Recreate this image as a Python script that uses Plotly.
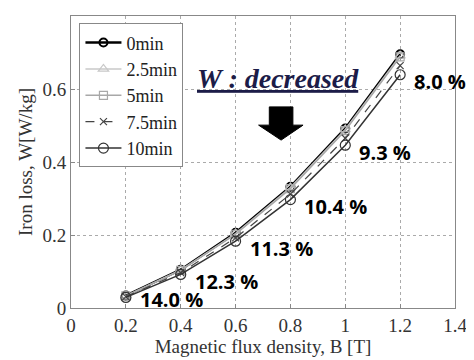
import plotly.graph_objects as go

B = [0.2, 0.4, 0.6, 0.8, 1.0, 1.2]
w_0min = [0.034, 0.105, 0.206, 0.332, 0.492, 0.695]
w_2_5min = [0.033, 0.104, 0.204, 0.330, 0.489, 0.691]
w_5min = [0.033, 0.103, 0.202, 0.327, 0.486, 0.688]
w_7_5min = [0.031, 0.097, 0.192, 0.312, 0.465, 0.664]
w_10min = [0.029, 0.092, 0.183, 0.297, 0.446, 0.639]
reductions = ["14.0 %", "12.3 %", "11.3 %", "10.4 %", "9.3 %", "8.0 %"]

series = [
    ("0min", w_0min, dict(color="black", width=2.5, dash="solid"), dict(symbol="circle-open", size=8, color="black", line=dict(width=2))),
    ("2.5min", w_2_5min, dict(color="#c8c8c8", width=1.5, dash="solid"), dict(symbol="triangle-up-open", size=9, color="#c8c8c8", line=dict(width=1.2))),
    ("5min", w_5min, dict(color="#a8a8a8", width=1.5, dash="solid"), dict(symbol="square-open", size=8, color="#a8a8a8", line=dict(width=1.2))),
    ("7.5min", w_7_5min, dict(color="#444444", width=1.2, dash="dash"), dict(symbol="x-thin-open", size=7, color="#444444", line=dict(width=1.2))),
    ("10min", w_10min, dict(color="#333333", width=1.5, dash="solid"), dict(symbol="circle-open", size=10, color="#333333", line=dict(width=1.2))),
]

SERIF = "Liberation Serif"

fig = go.Figure()
for name, vals, ln, mk in series:
    fig.add_trace(go.Scatter(x=B, y=vals, name=name, mode="lines+markers", line=ln, marker=mk))

# percentage labels next to 10min points
for i, (b, v, txt) in enumerate(zip(B, w_10min, reductions)):
    fig.add_annotation(x=b, y=v, text="<b>" + txt + "</b>", showarrow=False,
                       xanchor="left", yanchor="middle", xshift=12,
                       yshift=-2 if i == 0 else -7,
                       font=dict(family="Open Sans", size=20, color="black"))

fig.add_annotation(x=0.756, y=0.63, xref="x", yref="y",
                   text="<b><i><u>W : decreased</u></i></b>", showarrow=False,
                   font=dict(family=SERIF, size=28, color="#1c1c48"))

# down arrow
fig.add_shape(type="path", xref="x", yref="y",
              path="M 0.723 0.551 L 0.809 0.551 L 0.809 0.501 L 0.846 0.501 L 0.766 0.46 L 0.684 0.501 L 0.723 0.501 Z",
              fillcolor="black", line=dict(color="black", width=1))

axis_font = dict(family=SERIF, size=19, color="#333333")
fig.update_layout(
    width=466, height=352,
    margin=dict(l=63, r=19, t=8, b=52),
    paper_bgcolor="white", plot_bgcolor="white",
    font=axis_font,
    showlegend=True,
    legend=dict(x=0.022, y=0.975, xanchor="left", yanchor="top",
                bgcolor="white", bordercolor="#888888", borderwidth=1,
                font=dict(family=SERIF, size=18, color="#222222"),
                tracegroupgap=0, itemwidth=36),
    xaxis=dict(range=[0, 1.4], tickvals=[0, 0.2, 0.4, 0.6, 0.8, 1.0, 1.2, 1.4],
               ticktext=["0", "0.2", "0.4", "0.6", "0.8", "1", "1.2", "1.4"],
               showgrid=True, gridcolor="#aaaaaa", griddash="dot", gridwidth=1,
               showline=True, linecolor="#888888", mirror=True, linewidth=1,
               ticks="inside", ticklen=4, tickcolor="#888888", zeroline=False,
               automargin=False,
               title=dict(text="Magnetic flux density, B [T]", font=dict(family=SERIF, size=19, color="#333333"), standoff=2),
               tickfont=axis_font),
    yaxis=dict(range=[0, 0.8], tickvals=[0, 0.2, 0.4, 0.6, 0.8],
               ticktext=["0", "0.2", "0.4", "0.6", "0.8"],
               showgrid=True, gridcolor="#aaaaaa", griddash="dot", gridwidth=1,
               showline=True, linecolor="#888888", mirror=True, linewidth=1,
               ticks="inside", ticklen=4, tickcolor="#888888", zeroline=False,
               automargin=False,
               title=dict(text="Iron loss, W[W/kg]", font=dict(family=SERIF, size=19, color="#333333"), standoff=4),
               tickfont=axis_font),
)

fig.write_html("out.html")
